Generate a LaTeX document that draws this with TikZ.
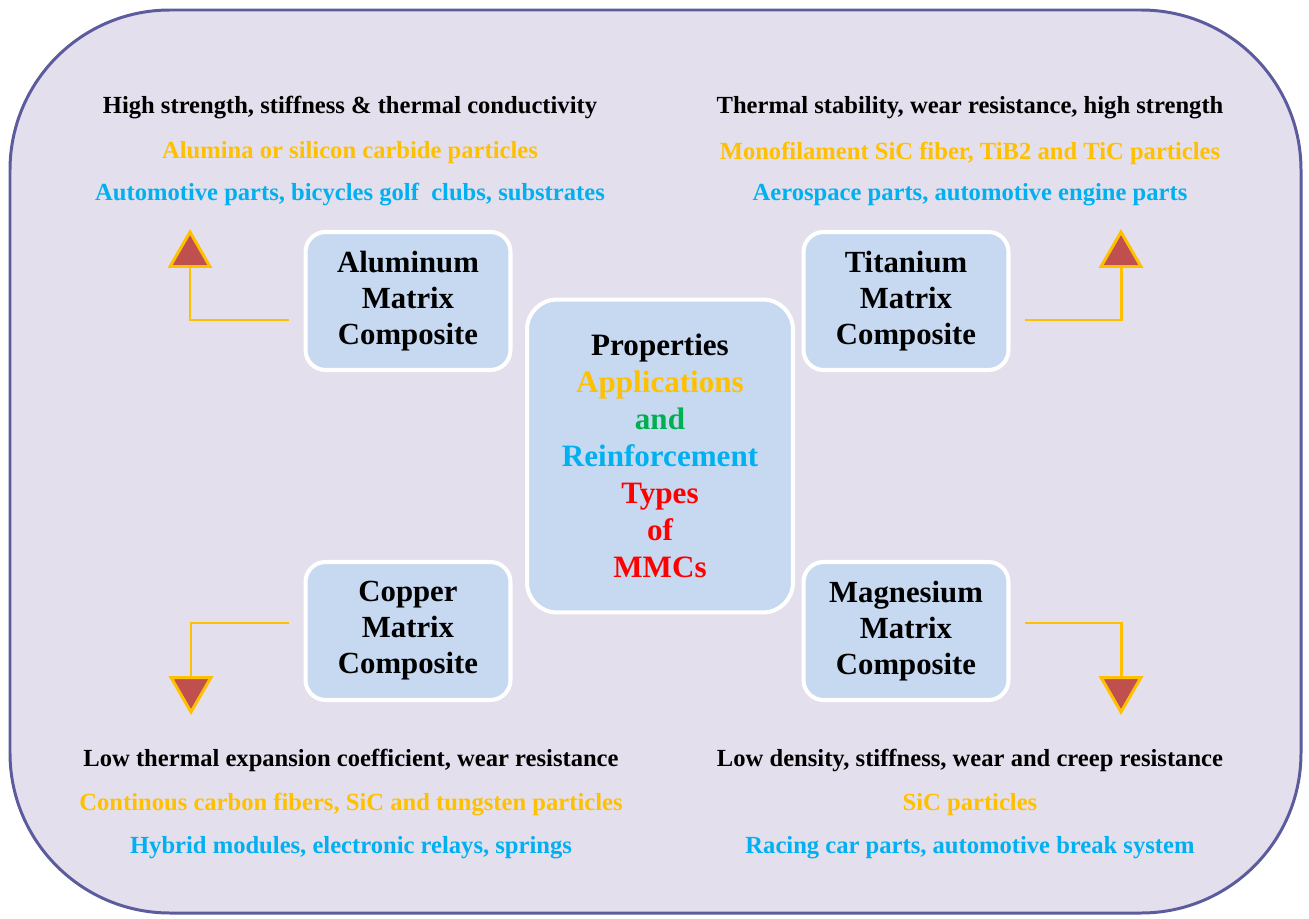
\documentclass[tikz,border=0pt]{standalone}
\usepackage{fontspec}
\setmainfont{Liberation Serif}
\usetikzlibrary{shapes.geometric}
\definecolor{frameblue}{HTML}{5B5B9E}
\definecolor{lilac}{HTML}{E4DFEC}
\definecolor{boxblue}{HTML}{C6D9F0}
\definecolor{gold}{HTML}{FFC000}
\definecolor{sky}{HTML}{00B0F0}
\definecolor{leaf}{HTML}{00B050}
\definecolor{brick}{HTML}{C0504D}

\begin{document}
\begin{tikzpicture}[x=0.02cm,y=-0.02cm,
        mmc/.style={draw=white,line width=2.3pt,fill=boxblue,rounded corners=0.4cm,
            minimum width=4.1cm,minimum height=2.76cm,align=center,
            font=\fontsize{17.5}{20.5}\selectfont\bfseries},
        info/.style={font=\fontsize{14}{16}\selectfont\bfseries},
        link/.style={gold,line width=1.7pt},
        tip/.style={regular polygon,regular polygon sides=3,draw=gold,fill=brick,
            line width=1.7pt,minimum size=0.92cm,inner sep=0pt}]
        \useasboundingbox (0,0) rectangle (1309,919);
        \draw[frameblue,fill=lilac,line width=1.7pt,rounded corners=3.2cm] (10,10) rectangle (1301,913);

        \node[mmc,minimum width=5.32cm,minimum height=6.26cm,rounded corners=0.6cm,
            font=\fontsize{17.7}{21}\selectfont\bfseries] (types) at (660,456)
            {Properties\\ \textcolor{gold}{Applications}\\ \textcolor{leaf}{and}\\
             \textcolor{sky}{Reinforcement}\\ \textcolor{red}{Types}\\
             \textcolor{red}{of}\\ \textcolor{red}{MMCs}};

        \node[mmc] (alu) at (408,301) {Aluminum\\ Matrix\\ Composite};
        \node[mmc] (tit) at (906,301) {Titanium\\ Matrix\\ Composite};
        \node[mmc] (cop) at (408,631) {Copper\\ Matrix\\ Composite};
        \node[mmc] (mag) at (906,631) {Magnesium\\ Matrix\\ Composite};

        \node[tip] (talu) at (190,255) {};
        \node[tip] (ttit) at (1121,255) {};
        \node[tip,shape border rotate=180] (tcop) at (191,689) {};
        \node[tip,shape border rotate=180] (tmag) at (1121,689) {};

        \coordinate (alu-out) at (289,320);
        \coordinate (tit-out) at (1025,320);
        \coordinate (cop-out) at (289,623);
        \coordinate (mag-out) at (1025,623);
        \draw[link] (alu-out) -| (talu.south);
        \draw[link] (tit-out) -| (ttit.south);
        \draw[link] (cop-out) -| (tcop.north);
        \draw[link] (mag-out) -| (tmag.north);

        \node[info] (alu-p) at (350,108) {High strength, stiffness \& thermal conductivity};
        \node[info,gold] (alu-r) at (350,153) {Alumina or silicon carbide particles};
        \node[info,sky] (alu-a) at (350,195) {Automotive parts, bicycles golf\ \ clubs, substrates};

        \node[info] (tit-p) at (970,108) {Thermal stability, wear resistance, high strength};
        \node[info,gold] (tit-r) at (970,153) {Monofilament SiC fiber, TiB2 and TiC particles};
        \node[info,sky] (tit-a) at (970,195) {Aerospace parts, automotive engine parts};

        \node[info] (cop-p) at (351,760) {Low thermal expansion coefficient, wear resistance};
        \node[info,gold] (cop-r) at (351,805) {Continous carbon fibers, SiC and tungsten particles};
        \node[info,sky] (cop-a) at (351,848) {Hybrid modules, electronic relays, springs};

        \node[info] (mag-p) at (970,760) {Low density, stiffness, wear and creep resistance};
        \node[info,gold] (mag-r) at (970,805) {SiC particles};
        \node[info,sky] (mag-a) at (970,848) {Racing car parts, automotive break system};
    \end{tikzpicture}
\end{document}
